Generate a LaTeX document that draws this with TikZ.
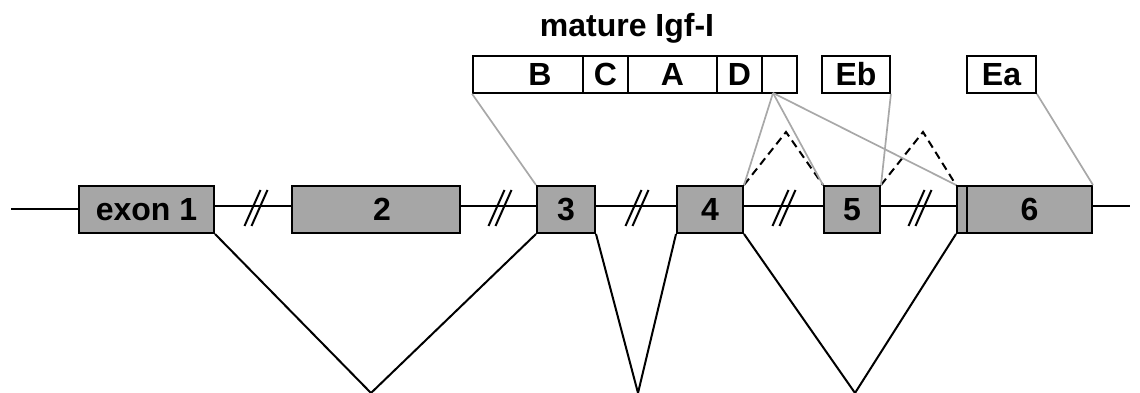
\documentclass[tikz,border=0pt]{standalone}
\usepackage{fontspec}
\setmainfont{Liberation Sans}
\definecolor{exongray}{RGB}{166,166,166}
\definecolor{linegray}{RGB}{168,168,168}
\newcommand\lblfont{\fontsize{32}{38}\selectfont\bfseries}
\begin{document}
\begin{tikzpicture}[x=1pt,y=1pt,
  exon/.style={draw=black, line width=2pt, fill=exongray, minimum height=47pt, inner sep=0pt, font=\lblfont},
  cell/.style={draw=black, line width=1.8pt, fill=white, minimum height=37pt, inner sep=0pt, font=\lblfont},
  bb/.style={line width=2pt, draw=black},
  grayln/.style={line width=1.7pt, draw=linegray},
  dashln/.style={line width=2pt, draw=black, dash pattern=on 8pt off 5pt},
  vline/.style={line width=2pt, draw=black},
  slashln/.style={line width=2pt, draw=black}]
\useasboundingbox (0,0) rectangle (1140,393);
% exons
\node[exon, minimum width=135pt] (e1) at (146.5,183.5) {exon 1};
\node[exon, minimum width=168pt] (e2) at (376,183.5) {\hspace*{12pt}2};
\node[exon, minimum width=58pt] (e3) at (566,183.5) {3};
\node[exon, minimum width=66pt] (e4) at (710,183.5) {4};
\node[exon, minimum width=56pt] (e5) at (852,183.5) {5};
\node[exon, minimum width=10pt] (e6a) at (962,183.5) {};
\node[exon, minimum width=125pt] (e6) at (1029.5,183.5) {6};
% top boxes
\node[anchor=base, font=\lblfont] (title) at (627,356) {mature Igf-I};
\node[cell, minimum width=110pt] (cB) at (528,318.5) {\hspace*{24pt}B};
\node[cell, minimum width=45pt] (cC) at (605.5,318.5) {C};
\node[cell, minimum width=89pt] (cA) at (672.5,318.5) {A};
\node[cell, minimum width=45pt] (cD) at (739.5,318.5) {D};
\node[cell, minimum width=35pt] (cE) at (779.5,318.5) {};
\node[cell, minimum width=68pt] (eb) at (856,318.5) {Eb};
\node[cell, minimum width=69pt] (ea) at (1001.5,318.5) {Ea};
% helper coordinates
\coordinate (g) at (773,300);
\coordinate (p1) at (786,261);
\coordinate (p2) at (923,261);
\coordinate (v1) at (371,0);
\coordinate (v2) at (638,0);
\coordinate (v3) at (855,0);
\coordinate (bs) at (11,183.5);
\coordinate (be) at (1130,187);
% backbone
\draw[bb] (bs) -- (e1.west);
\draw[bb] ([yshift=3.5pt]e1.east) -- ([yshift=3.5pt]e2.west);
\draw[bb] ([yshift=3.5pt]e2.east) -- ([yshift=3.5pt]e3.west);
\draw[bb] ([yshift=3.5pt]e3.east) -- ([yshift=3.5pt]e4.west);
\draw[bb] ([yshift=3.5pt]e4.east) -- ([yshift=3.5pt]e5.west);
\draw[bb] ([yshift=3.5pt]e5.east) -- ([yshift=3.5pt]e6a.west);
\draw[bb] ([yshift=3.5pt]e6.east) -- (be);
% break marks
\foreach \c in {256,500,637,784,920} {
  \draw[slashln] (\c-11.5,167) -- (\c+4.5,203);
  \draw[slashln] (\c-4.5,167) -- (\c+11.5,203);
}
% splicing below
\draw[vline] (e1.south east) -- (v1) -- (e3.south west);
\draw[vline] (e3.south east) -- (v2) -- (e4.south west);
\draw[vline] (e4.south east) -- (v3) -- (e6a.south west);
% alternative splicing above
\draw[dashln] (e4.north east) -- (p1) -- (e5.north west);
\draw[dashln] (e5.north east) -- (p2) -- (e6a.north west);
% protein mapping
\draw[grayln] (cB.south west) -- (e3.north west);
\draw[grayln] (g) -- (e4.north east);
\draw[grayln] (g) -- (e5.north west);
\draw[grayln] (g) -- (e6a.north west);
\draw[grayln] (eb.south east) -- (e5.north east);
\draw[grayln] (ea.south east) -- (e6.north east);
\end{tikzpicture}
\end{document}
